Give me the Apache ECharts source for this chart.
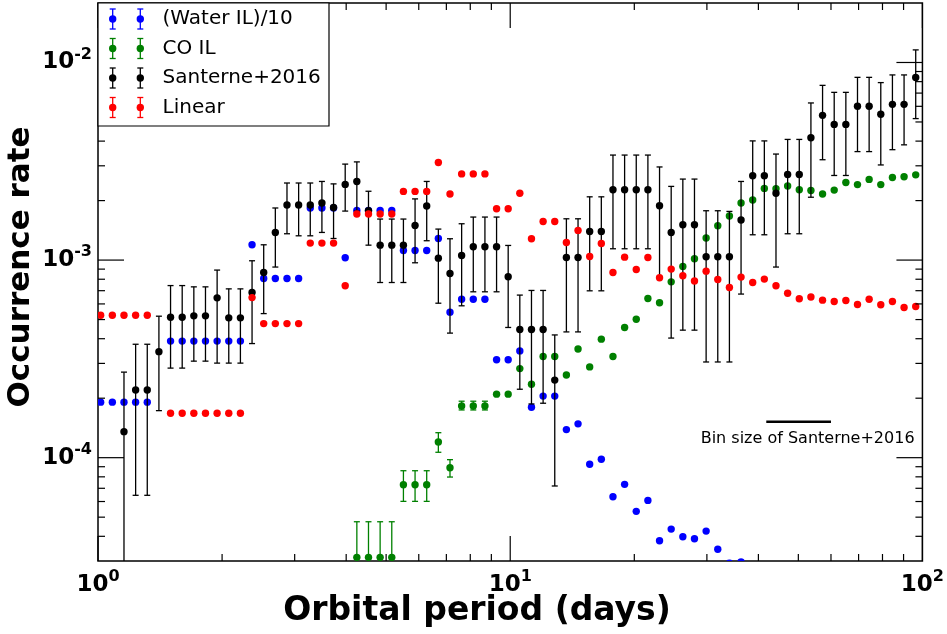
<!DOCTYPE html>
<html>
<head>
<meta charset="utf-8">
<script src="https://cdn.jsdelivr.net/npm/echarts@6/dist/echarts.min.js"></script>
<style>
  html, body { margin: 0; padding: 0; background: #fff; }
  #chart { width: 947px; height: 634px; }
</style>
</head>
<body>
<div id="chart"></div>
<script>
// Orbital period grid (days), shared by all four series
const periods = [
  1.0151, 1.0834, 1.1562, 1.2339, 1.3168, 1.4053, 1.4997, 1.6005, 1.7080, 1.8228,
  1.9453, 2.0760, 2.2155, 2.3644, 2.5233, 2.6928, 2.8738, 3.0669, 3.2730, 3.4930,
  3.7277, 3.9782, 4.2456, 4.5309, 4.8354, 5.1603, 5.5071, 5.8772, 6.2722, 6.6937,
  7.1435, 7.6235, 8.1359, 8.6826, 9.2661, 9.8871, 10.551, 11.261, 12.017, 12.825,
  13.686, 14.606, 15.588, 16.635, 17.753, 18.946, 20.219, 21.578, 23.028, 24.576,
  26.228, 27.990, 29.872, 31.879, 34.022, 36.308, 38.748, 41.352, 44.131, 47.097,
  50.262, 53.639, 57.244, 61.091, 65.197, 69.578, 74.253, 79.244, 84.569, 90.253,
  96.318
];

// (Water IL)/10
const waterIL = [
  1.91e-4, 1.91e-4, 1.91e-4, 1.91e-4, 1.91e-4, null, 3.89e-4, 3.89e-4, 3.89e-4, 3.89e-4,
  3.89e-4, 3.89e-4, 3.89e-4, 1.195e-3, 8.07e-4, 8.07e-4, 8.07e-4, 8.07e-4, 1.835e-3, 1.835e-3,
  1.835e-3, 1.027e-3, 1.784e-3, 1.784e-3, 1.784e-3, 1.784e-3, 1.118e-3, 1.118e-3, 1.118e-3, 1.286e-3,
  5.45e-4, 6.34e-4, 6.34e-4, 6.34e-4, 3.13e-4, 3.13e-4, 3.47e-4, 1.80e-4, 2.05e-4, 2.05e-4,
  1.387e-4, 1.483e-4, 9.26e-5, 9.82e-5, 6.34e-5, 7.33e-5, 5.35e-5, 6.08e-5, 3.80e-5, 4.35e-5,
  3.98e-5, 3.89e-5, 4.25e-5, 3.44e-5, 2.92e-5, 2.97e-5, null, null, null, null,
  null, null, null, null, null, null, null, null, null, null,
  null
];

// CO IL with its uncertainty range (0 = range reaches below the axis)
const coIL = [
  null, null, null, null, null, null, null, null, null, null,
  null, null, null, null, null, null, null, null, null, null,
  null, null, 3.13e-5, 3.13e-5, 3.13e-5, 3.13e-5, 7.30e-5, 7.30e-5, 7.30e-5, 1.201e-4,
  8.9e-5, 1.827e-4, 1.827e-4, 1.827e-4, 2.096e-4, 2.096e-4, 2.824e-4, 2.353e-4, 3.25e-4, 3.25e-4,
  2.62e-4, 3.55e-4, 2.88e-4, 3.98e-4, 3.25e-4, 4.56e-4, 5.02e-4, 6.39e-4, 6.08e-4, 7.76e-4,
  9.29e-4, 1.015e-3, 1.293e-3, 1.492e-3, 1.67e-3, 1.944e-3, 2.014e-3, 2.305e-3, 2.297e-3, 2.37e-3,
  2.27e-3, 2.25e-3, 2.16e-3, 2.26e-3, 2.47e-3, 2.41e-3, 2.56e-3, 2.41e-3, 2.62e-3, 2.64e-3,
  2.70e-3
];
const coLow = [
  null, null, null, null, null, null, null, null, null, null,
  null, null, null, null, null, null, null, null, null, null,
  null, null, 0, 0, 0, 0, 6.01e-5, 6.01e-5, 6.01e-5, 1.065e-4,
  7.98e-5, 1.744e-4, 1.744e-4, 1.744e-4
];
const coHigh = [
  null, null, null, null, null, null, null, null, null, null,
  null, null, null, null, null, null, null, null, null, null,
  null, null, 4.74e-5, 4.74e-5, 4.74e-5, 4.74e-5, 8.59e-5, 8.59e-5, 8.59e-5, 1.338e-4,
  9.77e-5, 1.931e-4, 1.931e-4, 1.931e-4
];

// Santerne+2016 with its uncertainty range
const santerne = [
  null, null, 1.354e-4, 2.20e-4, 2.20e-4, 3.44e-4, 5.14e-4, 5.14e-4, 5.22e-4, 5.22e-4,
  6.44e-4, 5.10e-4, 5.10e-4, 6.85e-4, 8.65e-4, 1.38e-3, 1.90e-3, 1.90e-3, 1.90e-3, 1.944e-3,
  1.846e-3, 2.415e-3, 2.50e-3, 1.777e-3, 1.19e-3, 1.19e-3, 1.19e-3, 1.497e-3, 1.877e-3, 1.023e-3,
  8.55e-4, 1.055e-3, 1.168e-3, 1.168e-3, 1.168e-3, 8.23e-4, 4.45e-4, 4.45e-4, 4.45e-4, 2.47e-4,
  1.031e-3, 1.031e-3, 1.396e-3, 1.396e-3, 2.27e-3, 2.27e-3, 2.27e-3, 2.27e-3, 1.884e-3, 1.38e-3,
  1.51e-3, 1.51e-3, 1.039e-3, 1.039e-3, 1.039e-3, 1.594e-3, 2.67e-3, 2.67e-3, 2.18e-3, 2.71e-3,
  2.71e-3, 4.16e-3, 5.40e-3, 4.86e-3, 4.86e-3, 6.00e-3, 6.00e-3, 5.47e-3, 6.14e-3, 6.14e-3,
  8.39e-3
];
const santerneLow = [
  null, null, 0, 6.45e-5, 6.45e-5, 1.73e-4, 2.84e-4, 2.84e-4, 3.08e-4, 3.08e-4,
  3.01e-4, 3.01e-4, 3.01e-4, 3.78e-4, 5.36e-4, 9.22e-4, 1.359e-3, 1.327e-3, 1.327e-3, 1.38e-3,
  1.286e-3, 1.77e-3, 1.77e-3, 1.19e-3, 7.7e-4, 7.7e-4, 7.7e-4, 9.69e-4, 1.253e-3, 6.05e-4,
  4.27e-4, 5.87e-4, 6.91e-4, 6.91e-4, 6.91e-4, 4.56e-4, 2.22e-4, 1.87e-4, 1.886e-4, 7.19e-5,
  4.33e-4, 4.33e-4, 6.99e-4, 6.99e-4, 1.141e-3, 1.141e-3, 1.141e-3, 1.141e-3, 8.14e-4, 4.03e-4,
  4.42e-4, 4.42e-4, 3.05e-4, 3.05e-4, 3.05e-4, 6.73e-4, 1.343e-3, 1.343e-3, 9.22e-4, 1.359e-3,
  1.359e-3, 2.08e-3, 3.22e-3, 2.68e-3, 2.68e-3, 3.54e-3, 3.54e-3, 3.03e-3, 3.62e-3, 3.83e-3,
  5.20e-3
];
const santerneHigh = [
  null, null, 2.71e-4, 3.75e-4, 3.75e-4, 5.20e-4, 7.43e-4, 7.43e-4, 7.32e-4, 7.32e-4,
  8.9e-4, 7.15e-4, 7.15e-4, 9.92e-4, 1.195e-3, 1.835e-3, 2.455e-3, 2.455e-3, 2.455e-3, 2.50e-3,
  2.43e-3, 3.06e-3, 3.14e-3, 2.23e-3, 1.613e-3, 1.613e-3, 1.613e-3, 2.04e-3, 2.50e-3, 1.435e-3,
  1.282e-3, 1.527e-3, 1.651e-3, 1.651e-3, 1.651e-3, 1.186e-3, 6.65e-4, 7.02e-4, 7.02e-4, 4.18e-4,
  1.618e-3, 1.618e-3, 2.09e-3, 2.09e-3, 3.40e-3, 3.40e-3, 3.40e-3, 3.40e-3, 2.96e-3, 2.36e-3,
  2.57e-3, 2.57e-3, 1.777e-3, 1.777e-3, 1.763e-3, 2.50e-3, 4.01e-3, 4.01e-3, 3.44e-3, 4.08e-3,
  4.08e-3, 6.24e-3, 7.66e-3, 7.06e-3, 7.06e-3, 8.41e-3, 8.41e-3, 7.91e-3, 8.65e-3, 8.65e-3,
  1.158e-2
];

// Linear
const linear = [
  5.26e-4, 5.26e-4, 5.26e-4, 5.26e-4, 5.26e-4, null, 1.679e-4, 1.679e-4, 1.679e-4, 1.679e-4,
  1.679e-4, 1.679e-4, 1.679e-4, 6.46e-4, 4.77e-4, 4.77e-4, 4.77e-4, 4.77e-4, 1.219e-3, 1.219e-3,
  1.219e-3, 7.41e-4, 1.71e-3, 1.71e-3, 1.71e-3, 1.71e-3, 2.226e-3, 2.226e-3, 2.226e-3, 3.12e-3,
  2.16e-3, 2.73e-3, 2.73e-3, 2.73e-3, 1.82e-3, 1.82e-3, 2.18e-3, 1.282e-3, 1.569e-3, 1.569e-3,
  1.228e-3, 1.413e-3, 1.043e-3, 1.214e-3, 8.65e-4, 1.035e-3, 8.96e-4, 1.031e-3, 8.14e-4, 9.0e-4,
  8.33e-4, 7.83e-4, 8.79e-4, 7.97e-4, 7.26e-4, 8.2e-4, 7.7e-4, 8.01e-4, 7.41e-4, 6.80e-4,
  6.37e-4, 6.50e-4, 6.27e-4, 6.17e-4, 6.24e-4, 5.96e-4, 6.34e-4, 5.94e-4, 6.17e-4, 5.75e-4,
  5.82e-4
];

const seriesNames = ['(Water IL)/10', 'CO IL', 'Santerne+2016', 'Linear'];
const seriesColors = ['#0000ff', '#008000', '#000000', '#ff0000'];

// Axis ranges and tick positions
const xRange = [1, 100];
const yRange = [3e-5, 2e-2];
const xMajorTicks = [1, 10, 100];
const xMinorTicks = [2, 3, 4, 5, 6, 7, 8, 9, 20, 30, 40, 50, 60, 70, 80, 90];
const yMajorTicks = [1e-4, 1e-3, 1e-2];
const yMinorTicks = [4e-5, 5e-5, 6e-5, 7e-5, 8e-5, 9e-5,
  2e-4, 3e-4, 4e-4, 5e-4, 6e-4, 7e-4, 8e-4, 9e-4,
  2e-3, 3e-3, 4e-3, 5e-3, 6e-3, 7e-3, 8e-3, 9e-3];

// Bin size annotation
const binSizeSpan = [41.8, 60];
const binSizeLevel = 1.52e-4;
const binSizeLabel = 'Bin size of Santerne+2016';

const FONT = 'DejaVu Sans';

function points(values, low, high) {
  const out = [];
  values.forEach(function (v, i) {
    if (v == null) return;
    const lo = low && low[i] != null ? low[i] : -1;
    const hi = high && high[i] != null ? high[i] : -1;
    out.push([periods[i], v, lo, hi]);
  });
  return out;
}

function dotRenderer(color) {
  return function (params, api) {
    const p = api.coord([api.value(0), api.value(1)]);
    return { type: 'circle', shape: { cx: p[0], cy: p[1], r: 3.7 }, style: { fill: color } };
  };
}

function barRenderer(color) {
  return function (params, api) {
    const hi = api.value(3);
    if (!(hi > 0)) return null;
    const lo = api.value(2);
    const cs = params.coordSys;
    const x = api.value(0);
    const top = api.coord([x, hi]);
    const cx = top[0];
    let yb, lowCap = true;
    if (lo > 0) { yb = api.coord([x, lo])[1]; } else { yb = cs.y + cs.height + 10; lowCap = false; }
    const st = { stroke: color, lineWidth: 1.3 };
    const children = [
      { type: 'line', shape: { x1: cx, y1: top[1], x2: cx, y2: yb }, style: st },
      { type: 'line', shape: { x1: cx - 3, y1: top[1], x2: cx + 3, y2: top[1] }, style: st }
    ];
    if (lowCap) children.push({ type: 'line', shape: { x1: cx - 3, y1: yb, x2: cx + 3, y2: yb }, style: st });
    return { type: 'group', children: children };
  };
}

function tickRenderer(isX, len) {
  return function (params, api) {
    const cs = params.coordSys;
    const st = { stroke: '#000', lineWidth: 1.2 };
    if (isX) {
      const x = api.coord([api.value(0), yRange[0]])[0];
      const yb = cs.y + cs.height, yt = cs.y;
      return { type: 'group', children: [
        { type: 'line', shape: { x1: x, y1: yb, x2: x, y2: yb - len }, style: st },
        { type: 'line', shape: { x1: x, y1: yt, x2: x, y2: yt + len }, style: st }
      ] };
    }
    const y = api.coord([xRange[0], api.value(1)])[1];
    const xl = cs.x, xr = cs.x + cs.width;
    return { type: 'group', children: [
      { type: 'line', shape: { x1: xl, y1: y, x2: xl + len, y2: y }, style: st },
      { type: 'line', shape: { x1: xr, y1: y, x2: xr - len, y2: y }, style: st }
    ] };
  };
}

function powerLabel(v) {
  const e = Math.log10(v);
  const r = Math.round(e);
  if (Math.abs(e - r) > 1e-6) return '';
  return '{b|10}{s|' + r + '}';
}

const labelRich = {
  b: { fontFamily: FONT, fontWeight: 'bold', fontSize: 23, lineHeight: 32, color: '#000' },
  s: { fontFamily: FONT, fontWeight: 'bold', fontSize: 16, lineHeight: 16, verticalAlign: 'top', color: '#000' }
};

const series = [];
function addSeries(idx, values, low, high, z) {
  const data = points(values, low, high);
  if (low) {
    series.push({ type: 'custom', name: seriesNames[idx] + ' range', data: data, encode: { x: 0, y: 1 },
      renderItem: barRenderer(seriesColors[idx]), clip: true, z: z, silent: true });
  }
  series.push({ type: 'custom', name: seriesNames[idx], data: data, encode: { x: 0, y: 1 },
    renderItem: dotRenderer(seriesColors[idx]), clip: true, z: z + 1, silent: true });
}
addSeries(0, waterIL, null, null, 2);
addSeries(1, coIL, coLow, coHigh, 4);
addSeries(2, santerne, santerneLow, santerneHigh, 6);
addSeries(3, linear, null, null, 8);

series.push({ type: 'custom', data: xMajorTicks.map(function (v) { return [v, yRange[0]]; }), encode: { x: 0, y: 1 }, renderItem: tickRenderer(true, 25), z: 20, silent: true });
series.push({ type: 'custom', data: xMinorTicks.map(function (v) { return [v, yRange[0]]; }), encode: { x: 0, y: 1 }, renderItem: tickRenderer(true, 7), z: 20, silent: true });
series.push({ type: 'custom', data: yMajorTicks.map(function (v) { return [xRange[0], v]; }), encode: { x: 0, y: 1 }, renderItem: tickRenderer(false, 26), z: 20, silent: true });
series.push({ type: 'custom', data: yMinorTicks.map(function (v) { return [xRange[0], v]; }), encode: { x: 0, y: 1 }, renderItem: tickRenderer(false, 7), z: 20, silent: true });

// Bin size marker: a horizontal bar with its caption beneath
series.push({
  type: 'custom', data: [[binSizeSpan[0], binSizeLevel, binSizeSpan[1]]], encode: { x: 0, y: 1 }, z: 20, silent: true,
  renderItem: function (params, api) {
    const a = api.coord([api.value(0), api.value(1)]);
    const b = api.coord([api.value(2), api.value(1)]);
    return { type: 'group', children: [
      { type: 'line', shape: { x1: a[0], y1: a[1], x2: b[0], y2: b[1] }, style: { stroke: '#000', lineWidth: 2.5 } },
      { type: 'text', x: (a[0] + b[0]) / 2 + 9, y: a[1] + 17,
        style: { text: binSizeLabel, fontFamily: FONT, fontSize: 16, fill: '#000', align: 'center', verticalAlign: 'middle' } }
    ] };
  }
});

// Legend: two marker samples with error bars, then the series name
const legendBox = { x: 98, y: 3, w: 231, h: 123 };
const legendRows = [19, 48.5, 78, 107.5];
const legendGraphics = [{
  type: 'rect', z: 50, shape: { x: legendBox.x, y: legendBox.y, width: legendBox.w, height: legendBox.h },
  style: { fill: '#fff', stroke: '#000', lineWidth: 1.2 }
}];
seriesNames.forEach(function (name, i) {
  const y = legendRows[i];
  const c = seriesColors[i];
  [112.7, 140.3].forEach(function (x) {
    legendGraphics.push({ type: 'line', z: 51, shape: { x1: x, y1: y - 10, x2: x, y2: y + 10 }, style: { stroke: c, lineWidth: 1.3 } });
    legendGraphics.push({ type: 'line', z: 51, shape: { x1: x - 3, y1: y - 10, x2: x + 3, y2: y - 10 }, style: { stroke: c, lineWidth: 1.3 } });
    legendGraphics.push({ type: 'line', z: 51, shape: { x1: x - 3, y1: y + 10, x2: x + 3, y2: y + 10 }, style: { stroke: c, lineWidth: 1.3 } });
    legendGraphics.push({ type: 'circle', z: 52, shape: { cx: x, cy: y, r: 3.7 }, style: { fill: c } });
  });
  legendGraphics.push({ type: 'text', z: 52, x: 162.5, y: y,
    style: { text: name, fontFamily: FONT, fontSize: 20, fill: '#000', align: 'left', verticalAlign: 'middle' } });
});

// Axis titles
legendGraphics.push({ type: 'text', z: 52, x: 477, y: 611,
  style: { text: 'Orbital period (days)', fontFamily: FONT, fontWeight: 'bold', fontSize: 33, fill: '#000', align: 'center', verticalAlign: 'middle' } });
legendGraphics.push({ type: 'text', z: 52, x: 21, y: 267, rotation: Math.PI / 2,
  style: { text: 'Occurrence rate', fontFamily: FONT, fontWeight: 'bold', fontSize: 31, fill: '#000', align: 'center', verticalAlign: 'middle' } });

const chart = echarts.init(document.getElementById('chart'), null, { renderer: 'canvas' });
chart.setOption({
  animation: false,
  backgroundColor: '#fff',
  grid: { left: 98, right: 22, top: 3, bottom: 73, show: true, borderColor: '#000', borderWidth: 1.5, backgroundColor: 'transparent' },
  xAxis: {
    type: 'log', logBase: 10, min: xRange[0], max: xRange[1],
    axisLine: { show: false }, axisTick: { show: false }, splitLine: { show: false }, minorTick: { show: false },
    axisLabel: { margin: 8, formatter: powerLabel, rich: labelRich, showMinLabel: true, showMaxLabel: true, hideOverlap: false }
  },
  yAxis: {
    type: 'log', logBase: 10, min: yRange[0], max: yRange[1],
    axisLine: { show: false }, axisTick: { show: false }, splitLine: { show: false }, minorTick: { show: false },
    axisLabel: { margin: 6, formatter: powerLabel, rich: labelRich, hideOverlap: false }
  },
  graphic: { elements: legendGraphics },
  series: series
});
</script>
</body>
</html>
